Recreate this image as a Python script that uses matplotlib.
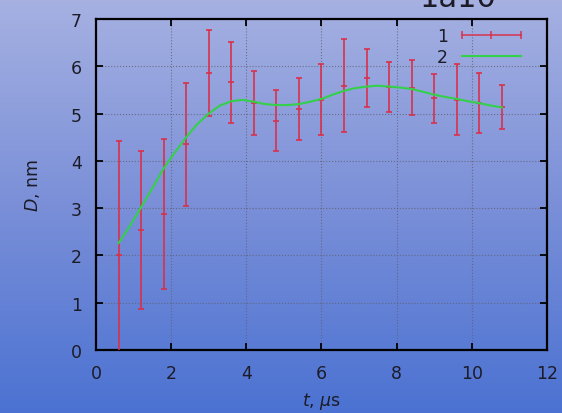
import numpy as np
import matplotlib
matplotlib.use('Agg')
import matplotlib.pyplot as plt
from matplotlib.colors import LinearSegmentedColormap
from matplotlib.lines import Line2D
from matplotlib.legend_handler import HandlerLine2D

plt.rcParams.update({
    'font.family': 'DejaVu Sans',
    'font.size': 12.5,
    'mathtext.fontset': 'dejavusans',
})

# measured points (series 1)
t_pts = [0.6, 1.2, 1.8, 2.4, 3.0, 3.6, 4.2, 4.8, 5.4, 6.0,
         6.6, 7.2, 7.8, 8.4, 9.0, 9.6, 10.2, 10.8]
d_pts = [2.00, 2.54, 2.88, 4.35, 5.86, 5.66, 5.22, 4.85, 5.10, 5.29,
         5.59, 5.75, 5.56, 5.55, 5.32, 5.29, 5.22, 5.14]
d_err = [2.41, 1.67, 1.58, 1.30, 0.91, 0.85, 0.67, 0.65, 0.66, 0.75,
         0.98, 0.62, 0.53, 0.59, 0.52, 0.75, 0.64, 0.47]

# fitted curve (series 2)
t_fit = [0.6, 0.9, 1.2, 1.5, 1.8, 2.1, 2.4, 2.7, 3.0, 3.3, 3.6, 3.9,
         4.2, 4.5, 4.8, 5.1, 5.4, 5.7, 6.0, 6.3, 6.6, 6.9, 7.2, 7.5,
         7.8, 8.1, 8.4, 8.7, 9.0, 9.3, 9.6, 9.9, 10.2, 10.5, 10.8]
d_fit = [2.26, 2.62, 3.02, 3.42, 3.84, 4.18, 4.50, 4.78, 5.00, 5.17, 5.26, 5.29,
         5.25, 5.20, 5.18, 5.18, 5.20, 5.25, 5.31, 5.40, 5.48, 5.54, 5.57, 5.59,
         5.57, 5.55, 5.52, 5.46, 5.40, 5.35, 5.31, 5.26, 5.22, 5.17, 5.13]

COL_ERR = '#d9304a'
COL_FIT = '#33d04a'
TXT = '#1c1c28'

fig = plt.figure(figsize=(5.62, 4.14), dpi=100)

# blue gradient background
bg = fig.add_axes([0, 0, 1, 1], zorder=-10)
cmap = LinearSegmentedColormap.from_list('bg', ['#a6b1e2', '#7a8fd8', '#4b72d2'])
bg.imshow(np.linspace(0, 1, 256).reshape(-1, 1), aspect='auto', cmap=cmap,
          extent=[0, 1, 0, 1])
bg.set_axis_off()

ax = fig.add_axes([0.1708, 0.1522, 0.8025, 0.7995])
ax.patch.set_alpha(0)

ax.errorbar(t_pts, d_pts, yerr=d_err, fmt='_', ms=5, mew=1.4,
            color=COL_ERR, ecolor=COL_ERR, elinewidth=1.4, capsize=2.2,
            capthick=1.4, alpha=0.85, zorder=3)
ax.plot(t_fit, d_fit, color=COL_FIT, lw=1.5, zorder=4)

ax.set_xlim(0, 12)
ax.set_ylim(0, 7)
ax.set_xticks(range(0, 13, 2))
ax.set_yticks(range(0, 8))
ax.tick_params(direction='in', top=True, right=True, length=5, width=1.3,
               pad=10, labelcolor=TXT)
for s in ax.spines.values():
    s.set_linewidth(1.6)
    s.set_color('black')
ax.grid(True, linestyle=':', color='#606070', lw=0.8, alpha=0.8)

ax.set_xlabel('$t$, $\\mu$s', color=TXT, labelpad=6)
ax.set_ylabel('$D$, nm', color=TXT, labelpad=21)

# gnuplot-like legend: label first, horizontal errorbar sample
h1 = Line2D([], [], color=COL_ERR, lw=1.2, marker='|', ms=6, mew=1.2, alpha=0.9)
h2 = Line2D([], [], color=COL_FIT, lw=1.5)
ax.legend([h1, h2], ['1', '2'], loc='upper right',
          bbox_to_anchor=(0.977, 1.022), frameon=False, markerfirst=False,
          handlelength=3.4, labelspacing=0.15, handletextpad=0.8,
          fontsize=12.5, labelcolor=TXT,
          handler_map={h1: HandlerLine2D(numpoints=3, marker_pad=0)})

fig.text(0.747, 0.984, '1a10', fontsize=22, color=TXT, va='baseline', ha='left')

fig.savefig('out.png', dpi=100)
